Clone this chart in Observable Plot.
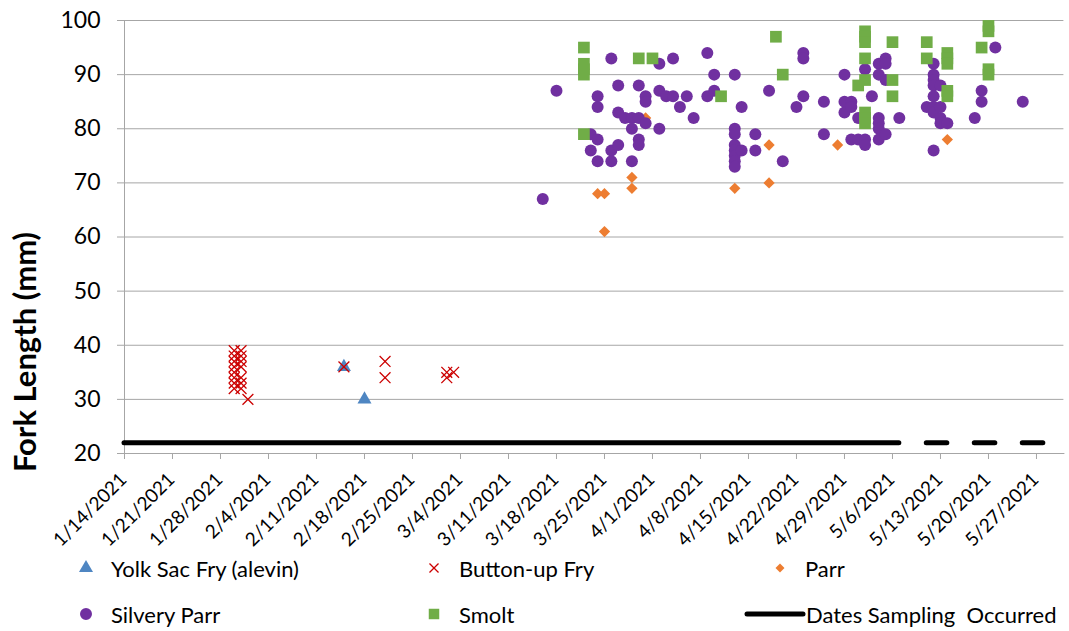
<!DOCTYPE html>
<html><head><meta charset="utf-8">
<script src="https://cdn.jsdelivr.net/npm/d3@7"></script>
<script src="https://cdn.jsdelivr.net/npm/@observablehq/plot@0.6"></script>
<style>
body{margin:0;background:#fff;font-family:Lato,"Open Sans",sans-serif;}
#wrap{position:relative;width:1069px;height:631px;overflow:hidden;background:#fff;}
#wrap svg.plot{position:absolute;left:0;top:0;}
.leg{position:absolute;display:flex;align-items:center;font-size:22px;color:#000;white-space:pre;}
.leg svg{display:block;}
</style></head><body><div id="wrap"></div>
<script>
// ---- data ----
const tickLabels = ["1/14/2021","1/21/2021","1/28/2021","2/4/2021","2/11/2021","2/18/2021","2/25/2021","3/4/2021","3/11/2021","3/18/2021","3/25/2021","4/1/2021","4/8/2021","4/15/2021","4/22/2021","4/29/2021","5/6/2021","5/13/2021","5/20/2021","5/27/2021"];
const yTicks = [20,30,40,50,60,70,80,90,100];
const xDomain = ["1/14","5/31"];
const yDomain = [20,100];

const yolkSacFry = [["2/15",36],["2/18",30]];
const buttonUpFry = [
  ["1/30",39],["1/30",38],["1/30",37],["1/30",36],["1/30",35],["1/30",34],["1/30",33],["1/30",32],
  ["1/31",39],["1/31",38],["1/31",37],["1/31",36],["1/31",34],["1/31",33],["1/31",32],
  ["2/1",30],["2/15",36],["2/21",37],["2/21",34],["3/2",35],["3/2",34],["3/3",35]
];
const parr = [["3/24",68],["3/25",68],["3/25",61],["3/29",71],["3/29",69],["3/31",82],["4/13",69],["4/18",77],["4/18",70],["4/28",77],["5/14",78]];
const silveryParr = [
  ["3/16",67],["3/18",87],["3/23",79],["3/23",76],
  ["3/24",86],["3/24",84],["3/24",78],["3/24",74],
  ["3/26",93],["3/26",76],["3/26",74],
  ["3/27",88],["3/27",83],["3/27",77],["3/28",82],
  ["3/29",82],["3/29",80],["3/29",74],
  ["3/30",88],["3/30",82],["3/30",78],["3/30",77],
  ["3/31",86],["3/31",85],["3/31",81],
  ["4/2",92],["4/2",87],["4/2",80],["4/3",86],["4/4",93],["4/4",86],["4/5",84],["4/6",86],["4/7",82],
  ["4/9",94],["4/9",86],["4/10",90],["4/10",87],
  ["4/13",90],["4/13",80],["4/13",79],["4/13",77],["4/13",76],["4/13",75],["4/13",74],["4/13",73],
  ["4/14",84],["4/14",76],["4/16",79],["4/16",76],["4/18",87],["4/20",74],["4/22",84],
  ["4/23",94],["4/23",93],["4/23",86],["4/26",85],["4/26",79],
  ["4/29",90],["4/29",85],["4/29",83],["4/30",85],["4/30",84],["4/30",78],
  ["5/1",82],["5/1",78],["5/2",91],["5/2",78],["5/2",77],["5/3",86],
  ["5/4",92],["5/4",90],["5/4",82],["5/4",81],["5/4",80],["5/4",78],
  ["5/5",93],["5/5",92],["5/5",89],["5/5",79],["5/7",82],["5/11",84],
  ["5/12",92],["5/12",90],["5/12",89],["5/12",88],["5/12",86],["5/12",84],["5/12",83],["5/12",76],
  ["5/13",88],["5/13",84],["5/13",82],["5/13",81],["5/14",81],
  ["5/18",82],["5/19",87],["5/19",85],["5/21",95],["5/25",85]
];
const smolt = [
  ["3/22",95],["3/22",92],["3/22",91],["3/22",90],["3/22",79],
  ["3/30",93],["4/1",93],["4/11",86],["4/19",97],["4/20",90],["5/1",88],
  ["5/2",98],["5/2",97],["5/2",96],["5/2",93],["5/2",89],["5/2",83],["5/2",82],["5/2",81],
  ["5/6",96],["5/6",89],["5/6",86],["5/11",96],["5/11",93],
  ["5/14",94],["5/14",93],["5/14",92],["5/14",87],["5/14",86],
  ["5/19",95],["5/20",99],["5/20",98],["5/20",91],["5/20",90]
];
const samplingRanges = [["1/14","5/7"],["5/11","5/14"],["5/18","5/21"],["5/25","5/28"]];
const samplingLevel = 22;

const seriesNames = ["Yolk Sac Fry (alevin)","Button-up Fry","Parr","Silvery Parr","Smolt","Dates Sampling  Occurred"];
const seriesColors = ["#4f86c2","#cc0000","#ed7d31","#7030a0","#70ad47","#000000"];

// ---- helpers ----
const parse = s => { const p = s.split("/").map(Number); return new Date(Date.UTC(2021, p[0]-1, p[1])); };
const rows = arr => arr.map(([d,v]) => ({date: parse(d), length: v}));
const tickDates = tickLabels.map(parse);
const labelByTime = new Map(tickDates.map((d,i)=>[+d, tickLabels[i]]));
const samplingRows = samplingRanges.map(([a,b]) => ({start: parse(a), end: parse(b)}));
const grey = "#a6a6a6";

const chart = Plot.plot({
  width: 1069, height: 550,
  marginTop: 20, marginBottom: 97, marginLeft: 124, marginRight: 5.6,
  x: {type: "utc", domain: xDomain.map(parse)},
  y: {domain: yDomain},
  style: {fontFamily: "Lato, sans-serif", color: "#000", background: "#fff"},
  marks: [
    Plot.gridY(yTicks, {stroke: grey, strokeOpacity: 1}),
    Plot.axisY(yTicks, {tickSize: 7, tickPadding: 17, stroke: grey, label: null, fontSize: 23, fill: "#000"}),
    Plot.axisX(tickDates, {tickSize: 6, tickFormat: () => "", label: null, stroke: grey}),
    Plot.axisX(tickDates, {tickSize: 0, tickPadding: 23, dx: -1, tickRotate: -45, tickFormat: d => labelByTime.get(+d), label: null, fontSize: 19, fill: "#000"}),
    Plot.frame({anchor: "left", stroke: grey}),
    Plot.frame({anchor: "bottom", stroke: grey}),
    Plot.dot(rows(yolkSacFry), {x: "date", y: "length", symbol: "triangle", r: 5.2, fill: seriesColors[0]}),
    Plot.dot(rows(buttonUpFry), {x: "date", y: "length", symbol: "times", r: 5, stroke: seriesColors[1], strokeWidth: 1.3}),
    Plot.dot(rows(parr), {x: "date", y: "length", symbol: "square", rotate: 45, r: 4.5, fill: seriesColors[2]}),
    Plot.dot(rows(silveryParr), {x: "date", y: "length", symbol: "circle", r: 6, fill: seriesColors[3]}),
    Plot.dot(rows(smolt), {x: "date", y: "length", symbol: "square", r: 6.6, fill: seriesColors[4]}),
    Plot.ruleY(samplingRows, {y: () => samplingLevel, x1: "start", x2: "end", stroke: seriesColors[5], strokeWidth: 5, strokeLinecap: "round"})
  ]
});
chart.classList.add("plot");
const wrap = document.getElementById("wrap");
wrap.appendChild(chart);

// y-axis title
d3.select(chart).append("text")
  .attr("transform", "translate(36,352) rotate(-90)")
  .attr("text-anchor", "middle")
  .attr("font-family", "Lato, sans-serif")
  .attr("font-weight", "bold")
  .attr("font-size", 31)
  .attr("fill", "#000")
  .text("Fork Length (mm)");

// legend
const legendItems = [
  {i:0, type: d3.symbolTriangle, size: 85, left: 74, top: 568},
  {i:1, type: d3.symbolTimes, size: 55, left: 422, top: 568},
  {i:2, type: d3.symbolSquare, size: 40, rot: 45, left: 768, top: 568},
  {i:3, type: d3.symbolCircle, size: 113, left: 74, top: 614},
  {i:4, type: d3.symbolSquare, size: 110, left: 422, top: 614},
  {i:5, line: true, left: 744, top: 614}
];
for (const it of legendItems) {
  const div = d3.select(wrap).append("div").attr("class","leg")
    .style("left", it.left + "px").style("top", (it.top - 14) + "px").style("height","28px");
  const w = it.line ? 62 : 24;
  const s = div.append("svg").attr("width", w).attr("height", 28).style("margin-right", it.line ? "0px" : "13px");
  if (it.line) {
    s.append("line").attr("x1", 3).attr("x2", 59).attr("y1", 14).attr("y2", 14)
      .attr("stroke", seriesColors[5]).attr("stroke-width", 5).attr("stroke-linecap", "round");
  } else {
    const p = s.append("path").attr("d", d3.symbol().type(it.type).size(it.size)())
      .attr("transform", `translate(12,14) rotate(${it.rot||0})`);
    if (it.i === 1) p.attr("fill","none").attr("stroke", seriesColors[1]).attr("stroke-width", 1.3);
    else p.attr("fill", seriesColors[it.i]);
  }
  div.append("span").text(seriesNames[it.i]);
}
</script>
</body></html>
